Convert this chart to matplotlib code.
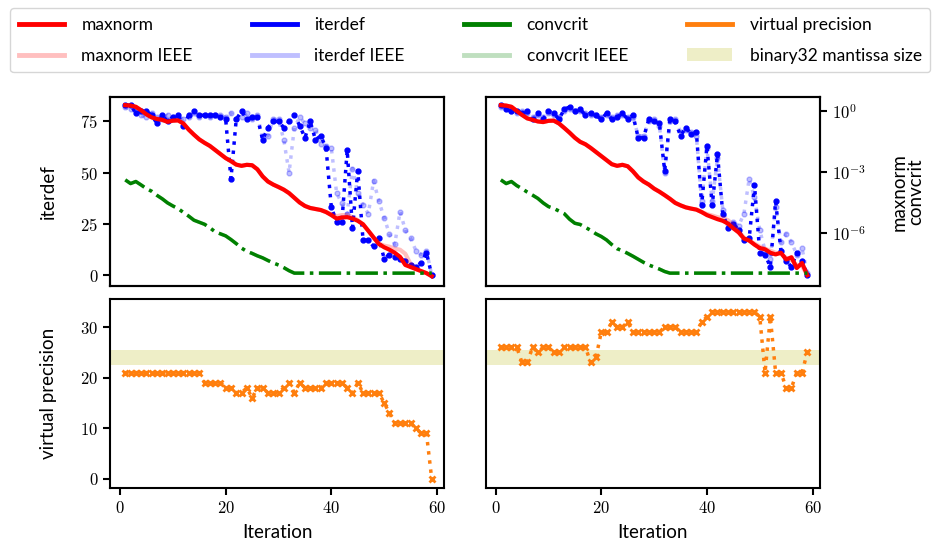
import math
import matplotlib
matplotlib.use("Agg")
import matplotlib.pyplot as plt
import matplotlib.ticker as ticker
from matplotlib.lines import Line2D
from matplotlib.patches import Patch

plt.rcParams['font.family'] = ['Lato', 'DejaVu Sans']
plt.rcParams['mathtext.fontset'] = 'cm'

iterations = list(range(1, 60))

# run shown in the left column
iterdef_a = [83, 83, 79, 80, 80, 78, 74, 78, 75, 77, 78, 73, 78, 80, 78, 78, 78, 78, 77, 76,
             47, 76, 80, 76, 77, 77, 66, 72, 75, 75, 72, 75, 78, 73, 67, 75, 66, 68, 62, 33,
             26, 26, 61, 23, 51, 17, 17, 14, 18, 8, 10, 9, 8, 7, 5, 4, 6, 11, 0]
iterdef_a_ieee = [82, 81, 80, 78, 77, 79, 77, 76, 78, 76, 77, 76, 77, 79, 77, 78, 77, 78, 78, 77,
                  79, 76, 77, 79, 76, 78, 67, 68, 76, 76, 66, 50, 72, 77, 74, 72, 71, 64, 63, 62,
                  40, 35, 30, 52, 40, 34, 30, 46, 36, 28, 20, 15, 31, 22, 18, 12, 10, 12, 0]
maxnorm_a_log = [0.3, 0.28, 0.22, 0.05, -0.15, -0.3, -0.38, -0.42, -0.52, -0.46,
                 -0.45, -0.6, -0.9, -1.15, -1.38, -1.55, -1.7, -1.9, -2.1, -2.3,
                 -2.45, -2.62, -2.68, -2.63, -2.65, -2.85, -3.2, -3.45, -3.6, -3.72,
                 -3.85, -4.02, -4.25, -4.48, -4.65, -4.75, -4.8, -4.85, -4.95, -5.1,
                 -5.27, -5.22, -5.2, -5.27, -5.38, -5.55, -5.87, -6.2, -6.52, -6.68,
                 -6.8, -6.95, -7.15, -7.55, -7.65, -7.75, -7.85, -7.95, -8.1]
maxnorm_a_ieee_log = [0.3, 0.28, 0.22, 0.05, -0.15, -0.3, -0.38, -0.42, -0.52, -0.46,
                      -0.45, -0.6, -0.9, -1.15, -1.38, -1.55, -1.7, -1.9, -2.1, -2.3,
                      -2.45, -2.62, -2.68, -2.63, -2.65, -2.85, -3.2, -3.45, -3.6, -3.72,
                      -3.85, -4.02, -4.25, -4.48, -4.65, -4.75, -4.8, -4.85, -4.95, -5.05,
                      -5.15, -5.1, -5.1, -5.2, -5.35, -5.55, -5.87, -6.2, -6.5, -6.6,
                      -6.65, -6.75, -6.8, -7.0, -7.5, -7.75, -7.85, -7.95, -8.1]
convcrit_a_log = [-3.37, -3.55, -3.45, -3.62, -3.8, -3.93, -4.13, -4.3, -4.5, -4.65,
                  -4.78, -4.97, -5.15, -5.35, -5.45, -5.55, -5.72, -5.92, -6.02, -6.12,
                  -6.3, -6.5, -6.72, -6.88, -6.98, -7.1, -7.2, -7.33, -7.45, -7.55,
                  -7.68, -7.83, -7.95, -7.95, -7.95, -7.95, -7.95, -7.95, -7.95, -7.95,
                  -7.95, -7.95, -7.95, -7.95, -7.95, -7.95, -7.95, -7.95, -7.95, -7.95,
                  -7.95, -7.95, -7.95, -7.95, -7.95, -7.95, -7.95, -7.95, -7.95]
vprec_a = [21, 21, 21, 21, 21, 21, 21, 21, 21, 21, 21, 21, 21, 21, 21, 19, 19, 19, 19, 18,
           18, 17, 17, 18, 16, 18, 18, 17, 17, 17, 18, 19, 17, 19, 18, 18, 18, 18, 19, 19,
           19, 19, 18, 17, 19, 17, 17, 17, 17, 15, 13, 11, 11, 11, 11, 10, 9, 9, 0]

# run shown in the right column
iterdef_b = [83, 81, 80, 80, 79, 80, 76, 79, 76, 80, 79, 76, 81, 82, 80, 81, 78, 79, 78, 76,
             79, 76, 77, 79, 76, 78, 67, 67, 76, 75, 74, 51, 76, 75, 68, 72, 69, 70, 34, 63,
             34, 59, 30, 23, 25, 22, 17, 18, 44, 11, 10, 4, 36, 12, 7, 4, 11, 7, 0]
iterdef_b_ieee = [82, 82, 80, 79, 80, 79, 77, 78, 77, 79, 78, 77, 80, 81, 80, 80, 79, 78, 78, 77,
                  78, 77, 78, 78, 77, 77, 68, 68, 75, 76, 73, 50, 75, 76, 70, 71, 70, 68, 36, 62,
                  36, 57, 32, 25, 26, 24, 30, 47, 38, 22, 12, 8, 33, 16, 20, 16, 10, 13, 1]
maxnorm_b_log = [0.3, 0.28, 0.22, 0.02, -0.18, -0.35, -0.42, -0.5, -0.53, -0.47,
                 -0.46, -0.6, -0.82, -1.05, -1.3, -1.5, -1.62, -1.8, -2.0, -2.2,
                 -2.4, -2.6, -2.68, -2.63, -2.7, -2.95, -3.25, -3.45, -3.6, -3.8,
                 -3.95, -4.12, -4.3, -4.5, -4.62, -4.72, -4.78, -4.83, -4.95, -5.1,
                 -5.2, -5.3, -5.38, -5.52, -5.75, -5.95, -6.25, -6.35, -6.55, -6.72,
                 -6.78, -6.95, -7.03, -6.95, -7.28, -7.17, -7.7, -7.45, -8.05]
maxnorm_b_ieee_log = [0.3, 0.28, 0.22, 0.02, -0.18, -0.35, -0.42, -0.5, -0.53, -0.47,
                      -0.46, -0.6, -0.82, -1.05, -1.3, -1.5, -1.62, -1.8, -2.0, -2.2,
                      -2.4, -2.6, -2.68, -2.63, -2.7, -2.95, -3.25, -3.45, -3.6, -3.8,
                      -3.95, -4.12, -4.3, -4.5, -4.62, -4.72, -4.78, -4.83, -4.95, -5.05,
                      -5.12, -5.2, -5.25, -5.35, -5.6, -5.9, -6.2, -6.35, -6.5, -6.65,
                      -6.75, -6.85, -6.95, -7.0, -7.2, -7.3, -7.55, -7.6, -8.05]
convcrit_b_log = [-3.37, -3.55, -3.45, -3.65, -3.8, -3.97, -4.12, -4.28, -4.5, -4.68,
                  -4.77, -4.9, -5.03, -5.3, -5.5, -5.56, -5.7, -5.85, -6.02, -6.15,
                  -6.32, -6.55, -6.75, -6.85, -6.98, -7.12, -7.27, -7.42, -7.55, -7.65,
                  -7.75, -7.87, -7.95, -7.95, -7.95, -7.95, -7.95, -7.95, -7.95, -7.95,
                  -7.95, -7.95, -7.95, -7.95, -7.95, -7.95, -7.95, -7.95, -7.95, -7.95,
                  -7.95, -7.95, -7.95, -7.95, -7.95, -7.95, -7.95, -7.95, -7.95]
vprec_b = [26, 26, 26, 26, 23, 23, 26, 25, 26, 26, 25, 25, 26, 26, 26, 26, 26, 23, 24, 29,
           29, 31, 30, 30, 31, 29, 29, 29, 29, 29, 29, 30, 30, 30, 29, 29, 29, 29, 31, 32,
           33, 33, 33, 33, 33, 33, 33, 33, 33, 32, 21, 32, 21, 21, 18, 18, 21, 21, 25]

mantissa_band = (22.5, 25.5)

runs = [
    (iterdef_a, iterdef_a_ieee, maxnorm_a_log, maxnorm_a_ieee_log, convcrit_a_log, vprec_a),
    (iterdef_b, iterdef_b_ieee, maxnorm_b_log, maxnorm_b_ieee_log, convcrit_b_log, vprec_b),
]

band_color = '#bcbd22'
light = 0.25

fig = plt.figure(figsize=(9.35, 5.46), dpi=100)
gs = fig.add_gridspec(2, 2, left=0.1176, right=0.877, top=0.8223, bottom=0.1062,
                      wspace=0.123, hspace=0.065)

tick_fmt = ticker.FuncFormatter(lambda v, p: "$%g$" % v)
log_fmt = ticker.FuncFormatter(lambda v, p: "$10^{%d}$" % round(math.log10(v)))

for col, (itd, itd_ieee, mx_log, mx_ieee_log, cv_log, vp) in enumerate(runs):
    ax = fig.add_subplot(gs[0, col])
    axb = fig.add_subplot(gs[1, col], sharex=ax)
    tw = ax.twinx()

    ax.plot(iterations, itd_ieee, ':', color='blue', alpha=light, lw=2.5,
            marker='o', ms=3.5)
    ax.plot(iterations, itd, ':', color='blue', lw=2.5, marker='o', ms=3.5)

    mx = [10 ** v for v in mx_log]
    mx_ieee = [10 ** v for v in mx_ieee_log]
    cv = [10 ** v for v in cv_log]
    tw.plot(iterations, mx_ieee, '-', color='red', alpha=light, lw=3)
    tw.plot(iterations, cv, '-.', color='green', alpha=light, lw=2.5)
    tw.plot(iterations, mx, '-', color='red', lw=3)
    tw.plot(iterations, cv, '-.', color='green', lw=2.5)
    tw.set_yscale('log')
    tw.set_ylim(10 ** -8.6, 10 ** 0.7)
    tw.yaxis.set_major_locator(ticker.FixedLocator([1, 1e-3, 1e-6]))
    tw.yaxis.set_minor_locator(ticker.NullLocator())
    tw.yaxis.set_major_formatter(log_fmt)

    axb.axhspan(mantissa_band[0], mantissa_band[1], color=band_color, alpha=light, lw=0)
    axb.plot(iterations, vp, ':', color='tab:orange', lw=2.5, marker='x', ms=4, mew=2)

    ax.set_xlim(-1.9, 61.4)
    ax.set_ylim(-5.5, 86.9)
    axb.set_ylim(-1.8, 35.6)
    ax.tick_params(axis='x', bottom=False, labelbottom=False)
    axb.set_xticks([0, 20, 40, 60])
    axb.set_xlabel('Iteration', fontsize=13.5, labelpad=6)
    for a in (ax, axb, tw):
        a.tick_params(labelsize=12, width=1.5, length=5)
        for s in a.spines.values():
            s.set_linewidth(1.5)
    axb.xaxis.set_major_formatter(tick_fmt)

    if col == 0:
        ax.set_yticks([0, 25, 50, 75])
        ax.yaxis.set_major_formatter(tick_fmt)
        axb.set_yticks([0, 10, 20, 30])
        axb.yaxis.set_major_formatter(tick_fmt)
        ax.set_ylabel('iterdef', fontsize=13.5, labelpad=17)
        axb.set_ylabel('virtual precision', fontsize=13.5, labelpad=17)
        tw.tick_params(axis='y', right=False, labelright=False)
    else:
        ax.tick_params(axis='y', left=False, labelleft=False)
        axb.tick_params(axis='y', left=False, labelleft=False)
        tw.set_ylabel('maxnorm\nconvcrit', fontsize=13.5, linespacing=0.95, labelpad=18)

handles = [
    Line2D([], [], color='red', lw=3.5),
    Line2D([], [], color='red', lw=3.5, alpha=light),
    Line2D([], [], color='blue', lw=3.5),
    Line2D([], [], color='blue', lw=3.5, alpha=light),
    Line2D([], [], color='green', lw=3.5),
    Line2D([], [], color='green', lw=3.5, alpha=light),
    Line2D([], [], color='tab:orange', lw=3.5),
    Patch(facecolor=band_color, alpha=light, lw=0),
]
labels = ['maxnorm', 'maxnorm IEEE', 'iterdef', 'iterdef IEEE',
          'convcrit', 'convcrit IEEE', 'virtual precision', 'binary32 mantissa size']
fig.legend(handles, labels, ncol=4, mode='expand', loc='upper left',
           bbox_to_anchor=(0.011, 0.985, 0.984, 0.0), borderaxespad=0,
           fontsize=12.5, handlelength=2.6, handletextpad=1.0, labelspacing=0.85,
           borderpad=0.5, frameon=True)

fig.savefig('out.png', dpi=100)
